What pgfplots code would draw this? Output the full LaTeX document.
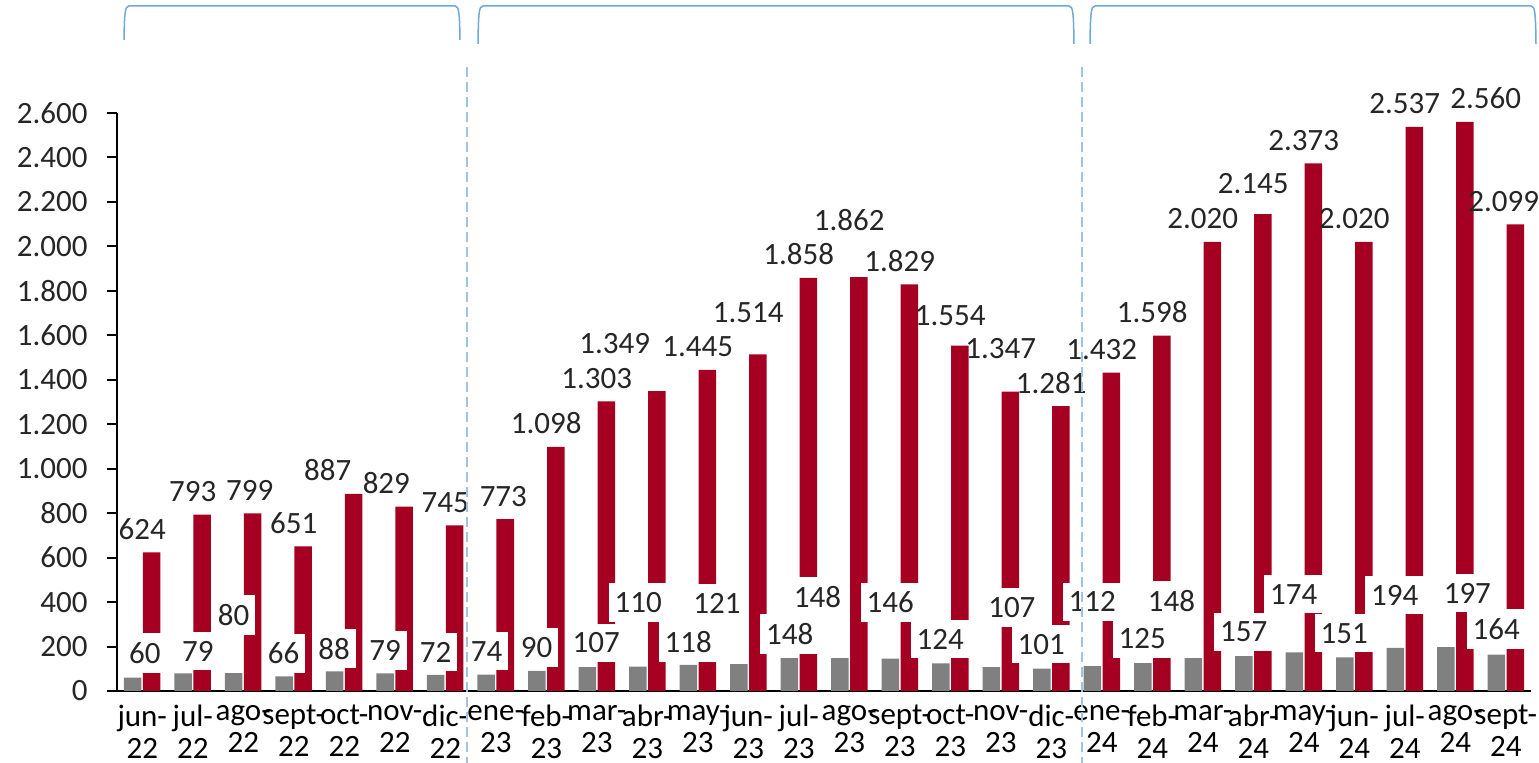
\documentclass[border=0pt]{standalone}
\usepackage{pgfplots}
\pgfplotsset{compat=1.18}
\usepackage{pgfplotstable}
\usepackage{fontspec}
\setmainfont{Carlito}

\definecolor{barred}{HTML}{A50021}
\definecolor{bargray}{HTML}{808080}
\definecolor{bracecol}{HTML}{6FA8DC}
\definecolor{dashcol}{HTML}{9DC3E6}
\definecolor{txt}{HTML}{262626}

% dx, dy = label offsets (pt) where the original moved them
\pgfplotstableread{
x red gray dx dy
0 624 60 0 0
1 793 79 0 0
2 799 80 3.25 0
3 651 66 0 0
4 887 88 -8.3 0
5 829 79 -4.2 0
6 745 72 0 0
7 773 74 3.8 0
8 1098 90 0 0
9 1303 107 0 0
10 1349 110 -16.25 12.1
11 1445 118 0 0
12 1514 121 0 9.25
13 1858 148 0 0
14 1862 148 0 16.75
15 1829 146 0 0
16 1554 124 0 3.6
17 1347 107 0 10
18 1281 101 0 0
19 1432 112 0 0
20 1598 125 0 0
21 2020 148 0 0
22 2145 157 0 3.75
23 2373 174 0 0
24 2020 151 0 0
25 2537 194 0 0
26 2560 197 15.25 0
27 2099 164 -1 0
}\data

% boxed labels of the gray series, where they sit in the chart
\pgfplotstableread{
x y v
0.05 171 60
1.10 178 79
1.81 342 80
2.80 169 66
3.80 191 88
4.81 182 79
5.81 175 72
6.82 178 74
7.81 196 90
8.99 216 107
9.82 398 110
10.81 220 118
11.38 396 121
12.82 256 148
13.37 424 148
14.81 398 146
15.80 234 124
17.22 376 107
17.80 211 101
18.81 402 112
19.80 234 125
20.38 405 148
21.81 265 157
22.80 436 174
23.80 259 151
24.80 430 194
26.24 439 197
26.81 279 164
}\graylab

\begin{document}
\begin{tikzpicture}
\begin{axis}[
    at={(0,0)}, anchor=south west,
    scale only axis,
    width=707pt, height=289pt,
    xmin=-0.5, xmax=27.5,
    ymin=0, ymax=2600,
    clip=false,
    axis x line*=bottom,
    axis y line*=left,
    axis line style={black, line width=1pt},
    tick align=outside,
    major tick length=5pt,
    ytick={0,200,...,2600},
    ytick style={black, line width=1pt},
    xtick={0,...,27},
    major x tick style={draw=none},
    xticklabels={{jun-\\22},{jul-\\22},{ago-\\22},{sept-\\22},{oct-\\22},{nov-\\22},{dic-\\22},
        {ene-\\23},{feb-\\23},{mar-\\23},{abr-\\23},{may-\\23},{jun-\\23},{jul-\\23},{ago-\\23},
        {sept-\\23},{oct-\\23},{nov-\\23},{dic-\\23},{ene-\\24},{feb-\\24},{mar-\\24},{abr-\\24},
        {may-\\24},{jun-\\24},{jul-\\24},{ago-\\24},{sept-\\24}},
    x tick label style={align=center, font=\fontsize{15.5}{15.8}\selectfont, text=black, inner sep=0pt, yshift=-2pt},
    y tick label style={font=\fontsize{15.5}{18}\selectfont, text=txt, inner sep=0pt, xshift=-9.5pt},
    /pgf/number format/.cd, 1000 sep={.}, assume math mode=true,
]

\addplot[ybar, bar width=8.75pt, bar shift=-4.75pt, fill=bargray, draw=none]
    table[x=x, y=gray] {\data};

\addplot[ybar, bar width=8.75pt, bar shift=4.75pt, fill=barred, draw=none,
    visualization depends on={\thisrow{dx} \as \dx},
    visualization depends on={\thisrow{dy} \as \dy},
    nodes near coords={\pgfmathprintnumber[assume math mode=true]{\pgfplotspointmeta}},
    nodes near coords style={anchor=south, inner sep=0pt, text=txt,
        font=\fontsize{15.5}{18}\selectfont, xshift=\dx pt, yshift={6.25pt+\dy pt}}]
    table[x=x, y=red] {\data};

\addplot[draw=none, mark=none, point meta=explicit,
    nodes near coords={\pgfmathprintnumber[assume math mode=true]{\pgfplotspointmeta}},
    nodes near coords style={anchor=center, fill=white, inner xsep=3pt, inner ysep=4.5pt,
        text=txt, font=\fontsize{15.5}{18}\selectfont}]
    table[x=x, y=y, meta=v] {\graylab};
\end{axis}

% period separators and brackets
\draw[dashcol, line width=0.75pt, dash pattern=on 5pt off 2.5pt] (175pt,312pt) -- (175pt,-36pt);
\draw[dashcol, line width=0.75pt, dash pattern=on 5pt off 2.5pt] (482.5pt,312pt) -- (482.5pt,-36pt);

\draw[bracecol, line width=0.75pt] (3.5pt,325.5pt) .. controls (3.7pt,339pt) and (4pt,342.5pt) .. (6pt,342.5pt)
    -- (169pt,342.5pt) .. controls (171pt,342.5pt) and (171.3pt,339pt) .. (171.5pt,325.5pt);
\draw[bracecol, line width=0.75pt] (180.5pt,323.5pt) .. controls (180.7pt,339pt) and (181pt,342.5pt) .. (183pt,342.5pt)
    -- (476pt,342.5pt) .. controls (478pt,342.5pt) and (478.3pt,339pt) .. (478.5pt,323.5pt);
\draw[bracecol, line width=0.75pt] (486.5pt,323.5pt) .. controls (486.7pt,339pt) and (487pt,342.5pt) .. (489pt,342.5pt)
    -- (707pt,342.5pt) .. controls (709pt,342.5pt) and (709.3pt,339pt) .. (709.5pt,323.5pt);

\pgfresetboundingbox
\useasboundingbox (-58.5pt,-36pt) rectangle (711pt,345.5pt);
\end{tikzpicture}
\end{document}
